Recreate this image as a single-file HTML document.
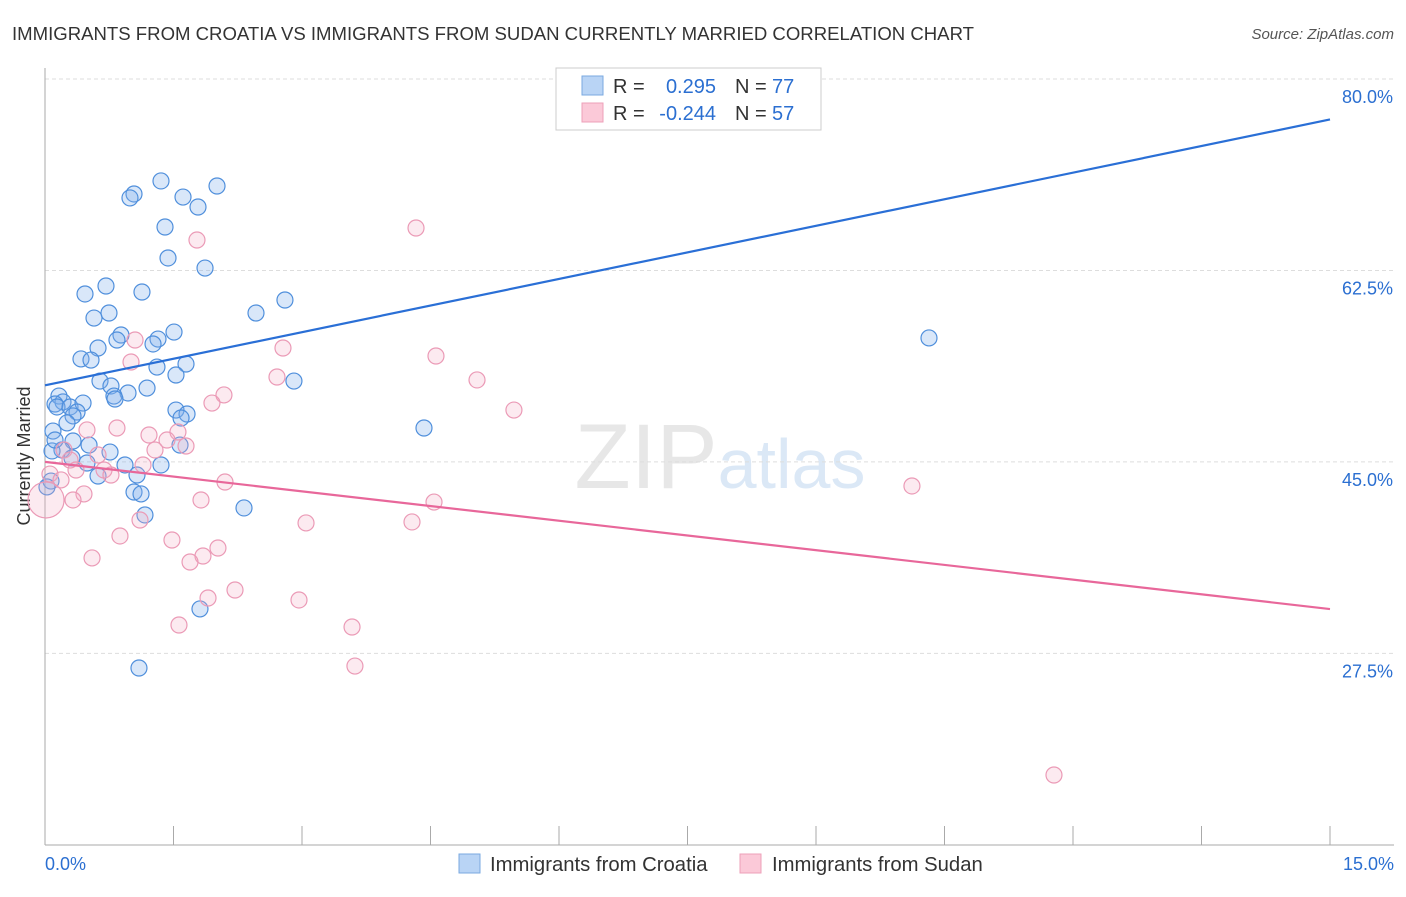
<!DOCTYPE html>
<html><head><meta charset="utf-8"><style>
body{margin:0;background:#fff;font-family:"Liberation Sans",sans-serif;}
svg text{font-family:"Liberation Sans",sans-serif;}
</style></head><body>
<svg id="chart" width="1406" height="892" xmlns="http://www.w3.org/2000/svg">
<text x="12" y="40" font-size="18.5" fill="#333" textLength="962" lengthAdjust="spacingAndGlyphs">IMMIGRANTS FROM CROATIA VS IMMIGRANTS FROM SUDAN CURRENTLY MARRIED CORRELATION CHART</text>
<text x="1394" y="39" font-size="15" fill="#555" text-anchor="end" font-style="italic">Source: ZipAtlas.com</text>
<text x="720" y="488" font-size="92" text-anchor="middle" font-family="Liberation Serif" fill="#e2e2e2" opacity="0.8">ZIP<tspan fill="#d3e3f5" font-family="Liberation Sans" font-size="70">atlas</tspan></text>
<text transform="translate(30,456) rotate(-90)" font-size="18" fill="#333" text-anchor="middle">Currently Married</text>
<g id="grid"></g><g id="axes"></g><g id="pts"></g><g id="lines"></g>
<g>
<rect x="556" y="68" width="265" height="62" fill="#fff" stroke="#ccc"/>
<rect x="582" y="76" width="21" height="19" fill="#b9d4f5" stroke="#7aa9e0"/>
<rect x="582" y="103" width="21" height="19" fill="#fbc9d8" stroke="#eea0b9"/>
<text x="613" y="93" font-size="20" fill="#333">R = </text><text x="716" y="93" font-size="20" fill="#2b6fd1" text-anchor="end">0.295</text>
<text x="735" y="93" font-size="20" fill="#333">N = </text><text x="772" y="93" font-size="20" fill="#2b6fd1">77</text>
<text x="613" y="120" font-size="20" fill="#333">R = </text><text x="716" y="120" font-size="20" fill="#2b6fd1" text-anchor="end">-0.244</text>
<text x="735" y="120" font-size="20" fill="#333">N = </text><text x="772" y="120" font-size="20" fill="#2b6fd1">57</text>
</g>
<g>
<rect x="459" y="854" width="21" height="19" fill="#b9d4f5" stroke="#7aa9e0"/>
<text x="490" y="871" font-size="20.3" fill="#333">Immigrants from Croatia</text>
<rect x="740" y="854" width="21" height="19" fill="#fbc9d8" stroke="#eea0b9"/>
<text x="772" y="871" font-size="20.3" fill="#333">Immigrants from Sudan</text>
</g>
</svg>
<script>
const croatiaX=[1.354,1.039,0.992,1.611,2.008,1.786,1.401,1.436,1.868,0.712,0.467,1.132,2.801,2.463,0.747,0.572,0.887,1.506,0.840,1.319,1.261,0.619,0.420,0.537,1.646,1.307,1.529,0.642,2.906,0.770,1.191,0.969,0.805,0.163,0.817,0.210,0.117,0.140,0.292,0.444,0.374,0.327,1.529,1.658,1.588,0.257,0.093,4.424,0.327,0.514,0.198,0.759,1.576,0.315,0.082,0.490,0.934,1.354,0.619,1.074,0.070,0.023,1.039,1.121,2.323,1.167,1.809,1.097,10.319,0.117];
const croatiaY=[70.68,69.49,69.13,69.21,70.22,68.30,66.47,63.64,62.72,61.08,60.35,60.53,59.80,58.61,58.61,58.15,56.60,56.87,56.14,56.23,55.78,55.41,54.41,54.31,53.95,53.67,52.94,52.39,52.39,51.94,51.75,51.30,51.02,51.02,50.75,50.48,50.29,50.02,50.02,50.38,49.56,49.20,49.74,49.38,49.01,48.56,47.82,48.10,46.91,46.54,46.09,45.90,46.54,45.36,46.00,44.90,44.72,44.72,43.71,43.80,43.25,42.71,42.25,42.07,40.79,40.15,31.56,26.16,56.33,47.00];
const sudanX=[4.331,1.774,2.778,4.564,1.004,1.051,2.708,5.043,2.089,1.949,5.474,0.840,0.490,1.552,1.214,1.424,1.646,1.284,0.222,0.619,0.292,1.144,0.362,0.689,0.770,0.058,0.187,2.101,10.120,0.455,0.327,1.821,4.541,4.284,3.047,1.109,0.875,1.482,2.019,1.844,1.693,0.549,2.218,1.903,2.965,1.564,3.584,3.618,11.778,0.012];
const sudanY=[66.38,65.28,55.41,54.68,54.13,56.14,52.76,52.49,51.12,50.38,49.74,48.10,47.92,47.73,47.46,47.00,46.45,46.09,46.09,45.63,45.17,44.72,44.26,44.26,43.80,43.89,43.35,43.16,42.80,42.07,41.52,41.52,41.33,39.51,39.42,39.69,38.23,37.86,37.13,36.40,35.85,36.22,33.29,32.56,32.38,30.09,29.91,26.34,16.38,41.52];
const trendCroatia=[52.0,76.3];
const trendSudan=[45.0,31.55];
const yTicks=[80,62.5,45,27.5];
const yTickLabels=["80.0%","62.5%","45.0%","27.5%"];
const xDomain=[0,15];
const NS='http://www.w3.org/2000/svg';
const sx=v=>45+(v-xDomain[0])/(xDomain[1]-xDomain[0])*1285;
const sy=v=>79+(80-v)*10.94;
function mk(tag,attrs,parent){const e=document.createElementNS(NS,tag);for(const k in attrs)e.setAttribute(k,attrs[k]);document.getElementById(parent).appendChild(e);return e;}
yTicks.forEach((t,i)=>{
 const g=mk('line',{x1:45,x2:1394,y1:sy(t),y2:sy(t),stroke:'#ddd','stroke-dasharray':'4,3'},'grid');
 
 
 const l=mk('text',{x:1393,y:sy(t)+24,'font-size':18,fill:'#2b6fd1','text-anchor':'end'},'grid');
 l.textContent=yTickLabels[i];
 
 
});
const ax=mk('line',{x1:45,x2:45,y1:68,y2:845,stroke:'#aaa'},'axes');


const bx=mk('line',{x1:45,x2:1394,y1:845,y2:845,stroke:'#aaa'},'axes');


for(let i=0;i<=10;i++){const v=i*1.5;const t=mk('line',{x1:sx(v),x2:sx(v),y1:826,y2:845,stroke:'#aaa'},'axes');
 
 }
[[0,'0.0%','start',45],[15,'15.0%','end',1394]].forEach(d=>{const t=mk('text',{x:d[3],y:870,'font-size':18,fill:'#2b6fd1','text-anchor':d[2]},'axes');t.textContent=d[1];
 
 });
croatiaX.forEach((x,i)=>{const c=mk('circle',{cx:sx(x),cy:sy(croatiaY[i]),r:8,fill:'rgba(130,175,235,0.3)',stroke:'#4f8fdc','stroke-width':1.2},'pts');
 
 });
sudanX.forEach((x,i)=>{const c=mk('circle',{cx:sx(x),cy:sy(sudanY[i]),r:i==sudanX.length-1?18:8,fill:'rgba(245,170,195,0.25)',stroke:'#eb9ab6','stroke-width':1.2},'pts');
 
 });
const l1=mk('line',{x1:sx(0),x2:sx(15),y1:sy(trendCroatia[0]),y2:sy(trendCroatia[1]),stroke:'#2a6fd6','stroke-width':2.2},'lines');


const l2=mk('line',{x1:sx(0),x2:sx(15),y1:sy(trendSudan[0]),y2:sy(trendSudan[1]),stroke:'#e8679a','stroke-width':2.2},'lines');


</script>
</body></html>
